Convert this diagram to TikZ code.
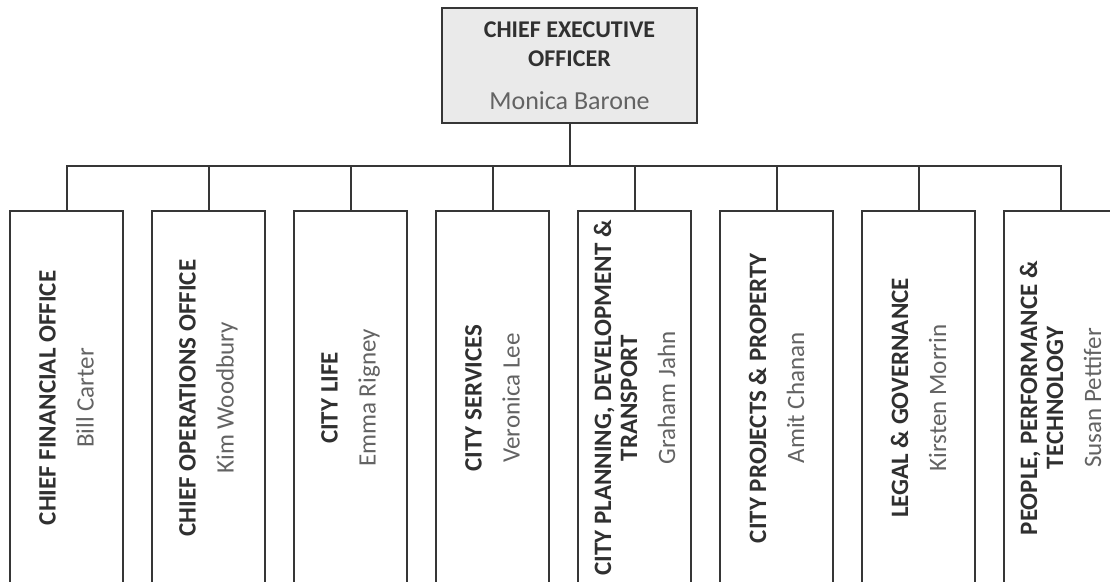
\documentclass[tikz,border=0pt]{standalone}
\usepackage{fontspec}
\setmainfont{Carlito}
\usetikzlibrary{positioning}

\definecolor{linegray}{HTML}{363636}
\definecolor{ceogray}{HTML}{EAEAEA}
\definecolor{titlegray}{HTML}{303030}
\definecolor{namegray}{HTML}{636363}

\begin{document}
\begin{tikzpicture}[x=0.5pt, y=0.5pt,
    ceo/.style={rectangle, draw=linegray, line width=1pt, fill=ceogray, minimum width=127.5pt, minimum height=57.5pt, align=center, font=\fontsize{12}{14.5}\selectfont, text=titlegray},
    dept/.style={rectangle, draw=linegray, line width=1pt, fill=white, rotate=90, anchor=east, minimum width=187pt, minimum height=56.5pt, align=center, font=\fontsize{12.5}{13}\selectfont, text=titlegray},
    link/.style={draw=linegray, line width=1pt}]
  \useasboundingbox (0,0) rectangle (1110,582);
  \clip (0,0) rectangle (1110,582);

  \node[ceo] (ceo) at (569.5,516.5) {\textbf{CHIEF EXECUTIVE}\\\textbf{OFFICER}\\[7pt]\color{namegray}\fontsize{13}{14.5}\selectfont Monica Barone};
  \coordinate[below=21pt of ceo] (bus);

  % departments, left to right
  \node[dept] (d1) at (66.5,372) {\textbf{CHIEF FINANCIAL OFFICE}\\[6pt]\color{namegray}Bill Carter};
  \node[dept] (d2) at (208.5,372) {\textbf{CHIEF OPERATIONS OFFICE}\\[6pt]\color{namegray}Kim Woodbury};
  \node[dept] (d3) at (350.5,372) {\textbf{CITY LIFE}\\[6pt]\color{namegray}Emma Rigney};
  \node[dept] (d4) at (492.5,372) {\textbf{CITY SERVICES}\\[6pt]\color{namegray}Veronica Lee};
  \node[dept] (d5) at (634.5,372) {\textbf{CITY PLANNING, DEVELOPMENT \&}\\\textbf{TRANSPORT}\\[6pt]\color{namegray}Graham Jahn};
  \node[dept] (d6) at (776.5,372) {\textbf{CITY PROJECTS \& PROPERTY}\\[6pt]\color{namegray}Amit Chanan};
  \node[dept] (d7) at (918.5,372) {\textbf{LEGAL \& GOVERNANCE}\\[6pt]\color{namegray}Kirsten Morrin};
  \node[dept] (d8) at (1060.5,372) {\textbf{PEOPLE, PERFORMANCE \&}\\\textbf{TECHNOLOGY}\\[6pt]\color{namegray}Susan Pettifer};

  \draw[link] (ceo) -- (bus);
  \draw[link] (d1.east) |- (bus) -| (d8.east);
  \foreach \i in {2,...,7}
    \draw[link] (d\i.east |- bus) -- (d\i.east);
\end{tikzpicture}
\end{document}
